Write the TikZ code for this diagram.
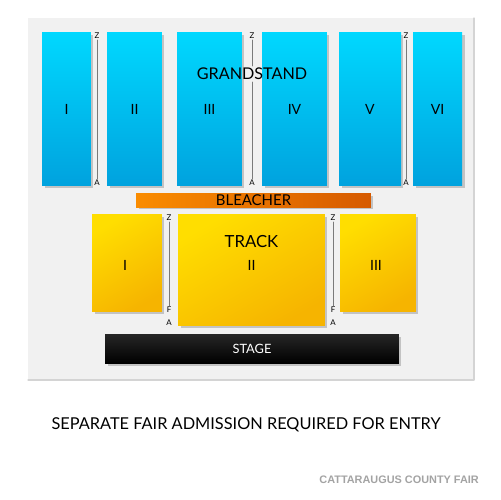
\documentclass[tikz,border=0pt]{standalone}
\usepackage{fontspec}
\setmainfont{Lato}
\newfontfamily\venuefont{Liberation Sans}
\usetikzlibrary{shadows}
\definecolor{panelgray}{HTML}{F1F1F1}
\definecolor{paneledge}{HTML}{D4D4D4}
\definecolor{standtop}{HTML}{00D8FF}
\definecolor{standbot}{HTML}{00A2DE}
\definecolor{tracktop}{HTML}{FFDE00}
\definecolor{trackbot}{HTML}{F6B400}
\definecolor{bleachleft}{HTML}{FA8C00}
\definecolor{bleachright}{HTML}{D65A00}
\definecolor{aislegray}{HTML}{7A7A7A}
\definecolor{venuegray}{HTML}{A3A3A3}
\tikzset{
  seat/.style={inner sep=0pt,drop shadow={shadow xshift=0.05cm,shadow yshift=-0.05cm,opacity=0.4}},
  stand/.style={seat,top color=standtop,bottom color=standbot,minimum height=3.08cm,font=\fontsize{8}{8}\selectfont},
  track/.style={seat,top color=tracktop,bottom color=trackbot,shading angle=30,font=\fontsize{8}{8}\selectfont},
  aisle/.style={aislegray,line width=0.5pt},
  aislelbl/.style={inner sep=0.5pt,font=\fontsize{4.5}{5}\selectfont}
}
\begin{document}
\begin{tikzpicture}[x=0.02cm,y=-0.02cm,line cap=round,line join=round]
  \useasboundingbox (0,0) rectangle (500,500);
  % panel
  \fill[panelgray] (28,18) rectangle (474,380);
  \draw[paneledge,line width=0.6pt] (474,18) -- (474,380) -- (28,380);
  % grandstand
  \node[stand,minimum width=0.98cm] (g1) at (66.5,109) {I};
  \node[stand,minimum width=1.10cm] (g2) at (134.5,109) {II};
  \node[stand,minimum width=1.30cm] (g3) at (209.5,109) {III};
  \node[stand,minimum width=1.30cm] (g4) at (294.5,109) {IV};
  \node[stand,minimum width=1.24cm] (g5) at (370,109) {V};
  \node[stand,minimum width=0.98cm] (g6) at (437.5,109) {VI};
  \node[font=\fontsize{9.2}{10}\selectfont,inner sep=1pt] (grand) at (252,74) {GRANDSTAND};
  \node[aislelbl] (zg1) at (97,36) {Z};
  \node[aislelbl] (ag1) at (97,183) {A};
  \node[aislelbl] (zg2) at (252,36) {Z};
  \node[aislelbl] (ag2) at (252,183) {A};
  \node[aislelbl] (zg3) at (406,36) {Z};
  \node[aislelbl] (ag3) at (406,183) {A};
  \draw[aisle] (zg1) -- (ag1);
  \draw[aisle] (zg2) -- (zg2 |- grand.north);
  \draw[aisle] (zg2 |- grand.south) -- (ag2);
  \draw[aisle] (zg3) -- (ag3);
  % bleacher
  \node[seat,left color=bleachleft,right color=bleachright,minimum width=4.70cm,minimum height=0.28cm,
    font=\fontsize{8.5}{9}\selectfont] (bleach) at (253.5,200) {BLEACHER};
  % track
  \node[track,minimum width=1.40cm,minimum height=1.96cm] (t1) at (127,263) {};
  \node[track,minimum width=2.94cm,minimum height=2.24cm] (t2) at (251.5,270) {};
  \node[track,minimum width=1.52cm,minimum height=1.96cm] (t3) at (378,263) {};
  \node[font=\fontsize{9.5}{10}\selectfont] (tracklbl) at (251.5,242) {TRACK};
  \node[font=\fontsize{8}{8}\selectfont] (t1lbl) at (125,265) {I};
  \node[font=\fontsize{8}{8}\selectfont] (t2lbl) at (251.5,265) {II};
  \node[font=\fontsize{8}{8}\selectfont] (t3lbl) at (376,265) {III};
  \node[aislelbl] (zt1) at (169,218) {Z};
  \node[aislelbl] (ft1) at (169,310) {F};
  \node[aislelbl] (at1) at (169,323) {A};
  \node[aislelbl] (zt2) at (333,218) {Z};
  \node[aislelbl] (ft2) at (333,310) {F};
  \node[aislelbl] (at2) at (333,323) {A};
  \draw[aisle] (zt1) -- (ft1);
  \draw[aisle] (zt2) -- (ft2);
  % stage
  \node[seat,top color=black!85,bottom color=black,minimum width=5.88cm,minimum height=0.58cm,
    text=white,font=\fontsize{7.3}{7}\selectfont] (stage) at (252,348.5) {STAGE};
  % notes
  \node[font=\fontsize{9.3}{10}\selectfont] (note) at (246,425) {SEPARATE FAIR ADMISSION REQUIRED FOR ENTRY};
  \node[text=venuegray,font=\venuefont\bfseries\fontsize{6.2}{7}\selectfont,anchor=east] (venue) at (485,480) {CATTARAUGUS COUNTY FAIR};
\end{tikzpicture}
\end{document}
